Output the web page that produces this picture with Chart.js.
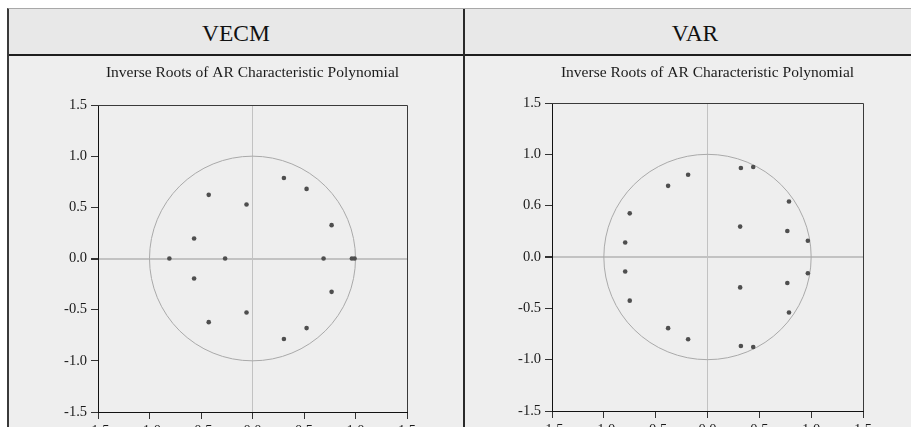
<!DOCTYPE html>
<html>
<head>
<meta charset="utf-8">
<script src="https://cdn.jsdelivr.net/npm/chart.js@4.4.1/dist/chart.umd.min.js"></script>
<style>
  html, body { margin: 0; padding: 0; background: #ffffff; }
  body {
    width: 911px; height: 427px; overflow: hidden; position: relative;
    font-family: "Palatino Linotype", "Book Antiqua", Palatino, "Liberation Serif", serif;
  }
  #frame {
    position: absolute; left: 7px; top: 8px; width: 940px; height: 460px;
    background: #eeeeee; border-top: 1px solid #a8a8a8; border-left: 2px solid #3a3a3a;
    box-sizing: border-box;
  }
  .head {
    position: absolute; top: 9px; height: 47px; background: #e8e8e8;
    border-bottom: 2px solid #1e1e1e; box-sizing: border-box;
    font-size: 23.5px; color: #111; text-align: center; line-height: 48px;
  }
  #divider { position: absolute; left: 463px; top: 9px; width: 2px; height: 460px; background: #2a2a2a; z-index: 3; }
  canvas { position: absolute; top: 56px; z-index: 2; }
</style>
</head>
<body>
<div id="frame"></div>
<div class="head" style="left:9px;width:454px;">VECM</div>
<div class="head" style="left:465px;width:460px;">VAR</div>
<div id="divider"></div>
<canvas id="vecm" width="455" height="400" style="left:8px;"></canvas>
<canvas id="var" width="446" height="400" style="left:465px;"></canvas>
<script>
// Inverse roots (real and imaginary parts) of each model's AR characteristic polynomial
const vecmRe = [-0.807, -0.567, -0.567, -0.425, -0.425, -0.266, -0.058, -0.058, 0.305, 0.305, 0.525, 0.525, 0.690, 0.768, 0.768, 0.965, 0.991];
const vecmIm = [0.000, 0.195, -0.195, 0.622, -0.622, 0.000, 0.527, -0.527, 0.786, -0.786, 0.680, -0.680, 0.000, 0.326, -0.326, 0.000, 0.000];

const varRe = [-0.794, -0.794, -0.750, -0.750, -0.380, -0.380, -0.187, -0.187, 0.315, 0.315, 0.322, 0.322, 0.441, 0.441, 0.770, 0.770, 0.786, 0.786, 0.968, 0.968];
const varIm = [0.141, -0.141, 0.425, -0.425, 0.693, -0.693, 0.801, -0.801, 0.296, -0.296, 0.867, -0.867, 0.876, -0.876, 0.253, -0.253, 0.540, -0.540, 0.159, -0.159];

// Axis tick labels
const xTickLabels = ['-1.5', '-1.0', '-0.5', '0.0', '0.5', '1.0', '1.5'];
const vecmYTickLabels = ['-1.5', '-1.0', '-0.5', '0.0', '0.5', '1.0', '1.5'];
const varYTickLabels = ['-1.5', '-1.0', '-0.5', '0.0', '0.6', '1.0', '1.5'];

const chartTitle = 'Inverse Roots of AR Characteristic Polynomial';
const SERIF = '"Palatino Linotype", "Book Antiqua", Palatino, "Liberation Serif", serif';

// Unit circle plus the top/right frame of the plot area
const unitCircle = {
  id: 'unitCircle',
  beforeDatasetsDraw(chart) {
    const { ctx, chartArea: a, scales: { x, y } } = chart;
    const cx = x.getPixelForValue(0), cy = y.getPixelForValue(0);
    const rx = x.getPixelForValue(1) - cx, ry = cy - y.getPixelForValue(1);
    ctx.save();
    ctx.strokeStyle = '#a9a9a9';
    ctx.lineWidth = 1;
    ctx.beginPath();
    ctx.ellipse(cx, cy, rx, ry, 0, 0, Math.PI * 2);
    ctx.stroke();
    ctx.strokeStyle = '#3a3a3a';
    ctx.beginPath();
    ctx.moveTo(a.left, Math.round(a.top) + 0.5);
    ctx.lineTo(Math.round(a.right) + 0.5, Math.round(a.top) + 0.5);
    ctx.lineTo(Math.round(a.right) + 0.5, a.bottom);
    ctx.stroke();
    ctx.restore();
  }
};

function zeroGrid(width) {
  return {
    color: c => (c.tick && c.tick.value === 0 ? '#c2c2c2' : 'rgba(0,0,0,0)'),
    lineWidth: c => (c.tick && c.tick.value === 0 ? width : 1),
    tickColor: '#333333',
    tickLength: 7,
    drawTicks: true
  };
}

function makeChart(id, re, im, yLabels, g) {
  const points = re.map((v, i) => ({ x: v, y: im[i] }));
  return new Chart(document.getElementById(id), {
    type: 'scatter',
    data: {
      datasets: [{
        data: points,
        backgroundColor: '#4e4e4e',
        borderWidth: 0,
        pointRadius: 2.3,
        pointHoverRadius: 2.3
      }]
    },
    options: {
      responsive: false,
      animation: false,
      events: [],
      layout: { padding: { left: 0, right: g.right, top: 0, bottom: 0 } },
      plugins: {
        legend: { display: false },
        tooltip: { enabled: false },
        title: {
          display: true,
          fullSize: false,
          text: chartTitle,
          color: '#1a1a1a',
          font: { family: SERIF, size: 15.5, weight: 'normal', lineHeight: '16px' },
          padding: { top: g.titleTop, bottom: g.titleBottom }
        }
      },
      scales: {
        x: {
          type: 'linear',
          min: -1.5, max: 1.5,
          afterFit: s => { s.height = g.xh; },
          grid: zeroGrid(1),
          border: { display: true, color: '#111111', width: 1 },
          ticks: {
            stepSize: 0.5, maxRotation: 0, autoSkip: false, padding: 3,
            color: '#1a1a1a', font: { family: SERIF, size: 14.5 },
            callback: (v, i) => xTickLabels[i]
          }
        },
        y: {
          type: 'linear',
          min: -1.5, max: 1.5,
          afterFit: s => { s.width = g.yw; },
          grid: zeroGrid(2),
          border: { display: true, color: '#111111', width: 1 },
          ticks: {
            stepSize: 0.5, autoSkip: false, padding: 4,
            color: '#1a1a1a', font: { family: SERIF, size: 14.5 },
            callback: (v, i) => yLabels[i]
          }
        }
      }
    },
    plugins: [unitCircle]
  });
}

makeChart('vecm', vecmRe, vecmIm, vecmYTickLabels, { yw: 90, xh: 44, right: 56, titleTop: 9, titleBottom: 24 });
makeChart('var', varRe, varIm, varYTickLabels, { yw: 87, xh: 45, right: 48, titleTop: 9, titleBottom: 22 });
</script>
</body>
</html>
